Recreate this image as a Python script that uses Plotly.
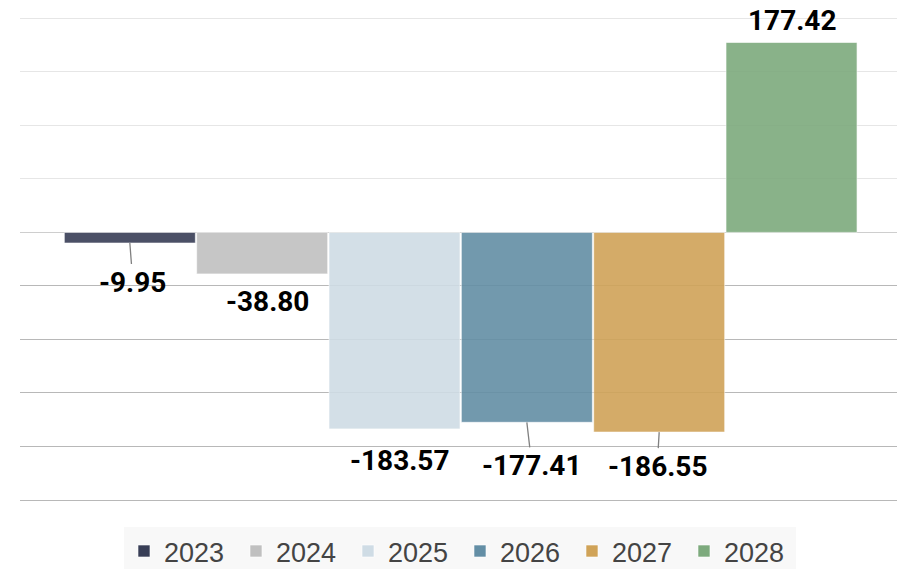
import plotly.graph_objects as go

# ---- data ----
years = ["2023", "2024", "2025", "2026", "2027", "2028"]
values = [-9.95, -38.80, -183.57, -177.41, -186.55, 177.42]
labels = ["-9.95", "-38.80", "-183.57", "-177.41", "-186.55", "177.42"]

# ---- styles ----
colors = ["#383e56", "#c0c0c0", "#cfdce5", "#638ea5", "#d0a358", "#7daa7d"]
# label offsets (px) from bar end and whether a leader line is drawn
label_dx = [3, 5, 5, 5, -2, 0]
label_dy = [39, 28, 32, 43, 34, -22]
leader = [True, False, False, True, True, False]

grid_pos = [50, 100, 150, 200]
grid_zero = [0]
grid_neg = [-50, -100, -150, -200, -250]
yrange = [-258.4, 207.75]

fig = go.Figure()
for yr, v, c in zip(years, values, colors):
    fig.add_trace(go.Bar(
        x=[yr], y=[v], name=yr,
        marker=dict(color=c, opacity=0.9,
                    line=dict(color="rgba(255,255,255,0.6)", width=1)),
        hoverinfo="skip",
    ))

annotations = []
for i, (v, t, dx, dy, ld) in enumerate(zip(values, labels, label_dx, label_dy, leader)):
    annotations.append(dict(
        x=i, y=v, xref="x", yref="y", text="<b>" + t + "</b>",
        showarrow=True, arrowhead=0, arrowwidth=1.3,
        arrowcolor="#808080" if ld else "rgba(0,0,0,0)",
        ax=dx, ay=dy, standoff=0,
        font=dict(family="Roboto", size=28, color="#000000"),
    ))

axis_common = dict(range=yrange, showticklabels=False, zeroline=False,
                   showline=False, ticks="", gridwidth=1)
fig.update_layout(
    width=897, height=569,
    margin=dict(l=20, r=0, t=10, b=60, autoexpand=False),
    plot_bgcolor="white", paper_bgcolor="white",
    barmode="relative", bargap=0.01,
    showlegend=True,
    annotations=annotations,
    xaxis=dict(type="category", range=[-0.83, 5.797], showticklabels=False,
               showgrid=False, zeroline=False, showline=False, ticks=""),
    yaxis=dict(tickmode="array", tickvals=grid_pos, gridcolor="#e6e6e6", **axis_common),
    yaxis2=dict(tickmode="array", tickvals=grid_zero, gridcolor="#cecece",
                overlaying="y", **axis_common),
    yaxis3=dict(tickmode="array", tickvals=grid_neg, gridcolor="#b8b8b8",
                overlaying="y", **axis_common),
    legend=dict(orientation="h", x=0.5017, xanchor="center", y=-0.036, yanchor="top",
                bgcolor="#f8f8f8", font=dict(family="Liberation Sans", size=27, color="#444444"),
                entrywidth=67, traceorder="normal"),
)
# invisible helper traces so the overlay grid axes are drawn
fig.add_trace(go.Scatter(x=[years[0]], y=[0], yaxis="y2", mode="markers",
                         marker=dict(opacity=0), showlegend=False, hoverinfo="skip"))
fig.add_trace(go.Scatter(x=[years[0]], y=[0], yaxis="y3", mode="markers",
                         marker=dict(opacity=0), showlegend=False, hoverinfo="skip"))

fig.write_html("out.html")
